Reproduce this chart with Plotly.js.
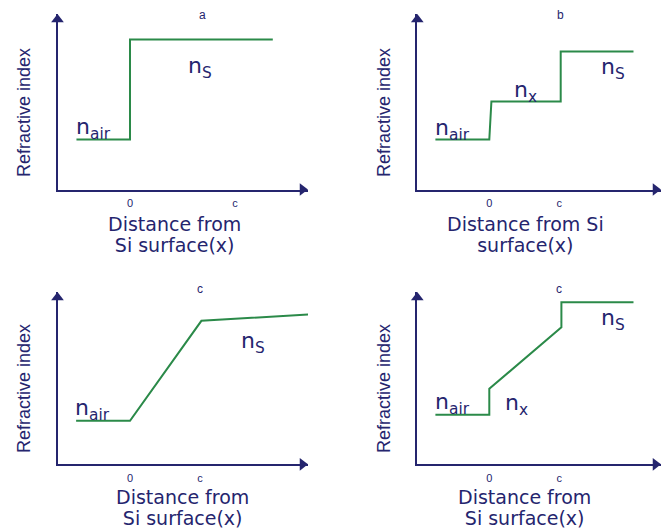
<!DOCTYPE html>
<html>
<head>
<meta charset="utf-8">
<script src="https://cdn.plot.ly/plotly-3.0.1.min.js"></script>
<style>html,body{margin:0;padding:0;background:#fff;}#chart{width:661px;height:529px;}</style>
</head>
<body>
<div id="chart"></div>
<script>
// ---- Data (x: distance in units where 0 = Si surface, 1 = c; y: refractive index, arbitrary units) ----
const aX = [-0.51, 0, 0, 1.36];
const aY = [1.0, 1.0, 3.0, 3.0];
const bX = [-0.77, 0, 0.03, 1.02, 1.02, 2.06];
const bY = [1.0, 1.0, 1.76, 1.76, 2.76, 2.76];
const cX = [-0.77, 0, 1.02, 2.6];
const cY = [0.87, 0.87, 2.87, 3.0];
const dX = [-0.77, 0, 0, 1.03, 1.03, 2.06];
const dY = [0.99, 0.99, 1.51, 2.74, 3.24, 3.24];
const tickVals = [0, 1];
const tickText = ["0", "c"];
const panelTitles = ["a", "b", "c", "c"];
const xTitleLines = [
  ["Distance from", "Si surface(x)"],
  ["Distance from Si", "surface(x)"],
  ["Distance from", "Si surface(x)"],
  ["Distance from", "Si surface(x)"]
];
const yTitle = "Refractive index";
const labelTexts = [
  ["n<sub>air</sub>", "n<sub>S</sub>"],
  ["n<sub>air</sub>", "n<sub>x</sub>", "n<sub>S</sub>"],
  ["n<sub>air</sub>", "n<sub>S</sub>"],
  ["n<sub>air</sub>", "n<sub>x</sub>", "n<sub>S</sub>"]
];

// ---- Layout geometry ----
const W = 661, H = 529;
const NAVY = "#25256e", GREEN = "#2b8a49";
const YUNIT = 50;
const HEAD = 11;            // arrowhead marker size (px)
const HEAD_R = HEAD / 2;    // distance from marker centre to its tip (px)
const panels = [
  {left: 57.5, right: 308, bottom: 189.5, top: 14, zero: 130, unit: 105, xs: aX, ys: aY,
   title: [202, 15], xt: [174, 234], yt: [24, 113],
   labels: [[-0.35, 1.23], [0.67, 2.45]]},
  {left: 417.3, right: 661, bottom: 189.5, top: 14, zero: 489.3, unit: 70, xs: bX, ys: bY,
   title: [560, 15], xt: [525, 234], yt: [384, 113],
   labels: [[-0.53, 1.21], [0.52, 1.97], [1.77, 2.43]]},
  {left: 57.5, right: 308, bottom: 464.3, top: 292, zero: 130, unit: 70, xs: cX, ys: cY,
   title: [200, 289], xt: [182, 507.5], yt: [24, 389],
   labels: [[-0.53, 1.09], [1.76, 2.43]]},
  {left: 417.3, right: 661, bottom: 464.3, top: 292, zero: 489.3, unit: 70, xs: dX, ys: dY,
   title: [559, 289], xt: [524, 507.5], yt: [384, 389],
   labels: [[-0.53, 1.21], [0.39, 1.19], [1.77, 2.9]]}
];

const traces = [];
const annotations = [];
const layout = {
  width: W, height: H,
  margin: {l: 0, r: 0, t: 0, b: 0},
  paper_bgcolor: "#ffffff", plot_bgcolor: "#ffffff",
  showlegend: false,
  font: {family: "DejaVu Sans, Liberation Sans, sans-serif", color: NAVY},
  annotations: annotations
};

panels.forEach((p, i) => {
  const n = i === 0 ? "" : String(i + 1);
  const xr = [(p.left - p.zero) / p.unit, (p.right - p.zero) / p.unit];
  const yr = [0, (p.bottom - p.top) / YUNIT];
  layout["xaxis" + n] = {
    domain: [p.left / W, p.right / W], range: xr, fixedrange: true,
    anchor: "y" + n, showgrid: false, zeroline: false,
    showline: true, linecolor: NAVY, linewidth: 2, mirror: false,
    ticks: "", tickvals: tickVals, ticktext: tickText, ticklabelstandoff: 2,
    tickfont: {family: "Liberation Sans, Arial, sans-serif", size: 11, color: NAVY}
  };
  layout["yaxis" + n] = {
    domain: [1 - p.bottom / H, 1 - p.top / H], range: yr, fixedrange: true,
    anchor: "x" + n, showgrid: false, zeroline: false,
    showline: true, linecolor: NAVY, linewidth: 2, mirror: false,
    showticklabels: false, ticks: ""
  };
  traces.push({
    type: "scatter", mode: "lines", x: p.xs, y: p.ys,
    xaxis: "x" + n, yaxis: "y" + n,
    line: {color: GREEN, width: 2}, hoverinfo: "skip"
  });
  // arrowheads at the ends of both axes
  traces.push({
    type: "scatter", mode: "markers",
    x: [xr[0], xr[1] - HEAD_R / p.unit], y: [yr[1] - HEAD_R / YUNIT, 0],
    xaxis: "x" + n, yaxis: "y" + n, cliponaxis: false, hoverinfo: "skip",
    marker: {symbol: ["triangle-up", "triangle-right"], size: HEAD, color: NAVY, line: {width: 0}}
  });
  // panel title
  annotations.push({
    xref: "paper", yref: "paper", x: p.title[0] / W, y: 1 - p.title[1] / H,
    xanchor: "center", yanchor: "middle", showarrow: false, text: panelTitles[i],
    font: {family: "Liberation Sans, Arial, sans-serif", size: 12, color: NAVY}
  });
  // x axis title (two lines; base size sets line spacing, span sets glyph size)
  annotations.push({
    xref: "paper", yref: "paper", x: p.xt[0] / W, y: 1 - p.xt[1] / H,
    xanchor: "center", yanchor: "middle", showarrow: false,
    text: xTitleLines[i].map(s => '<span style="font-size:19px">' + s + '</span>').join("<br>"),
    font: {family: "DejaVu Sans, sans-serif", size: 16.5, color: NAVY}
  });
  // y axis title
  annotations.push({
    xref: "paper", yref: "paper", x: p.yt[0] / W, y: 1 - p.yt[1] / H,
    xanchor: "center", yanchor: "middle", showarrow: false, text: yTitle, textangle: -90,
    font: {family: "Liberation Sans, Arial, sans-serif", size: 18, color: NAVY}
  });
  // curve labels
  labelTexts[i].forEach((t, k) => {
    annotations.push({
      xref: "x" + n, yref: "y" + n, x: p.labels[k][0], y: p.labels[k][1],
      xanchor: "center", yanchor: "middle", showarrow: false, text: t,
      font: {family: "DejaVu Sans, sans-serif", size: 22, color: NAVY}
    });
  });
});

Plotly.newPlot("chart", traces, layout, {displayModeBar: false, staticPlot: true});
</script>
</body>
</html>
